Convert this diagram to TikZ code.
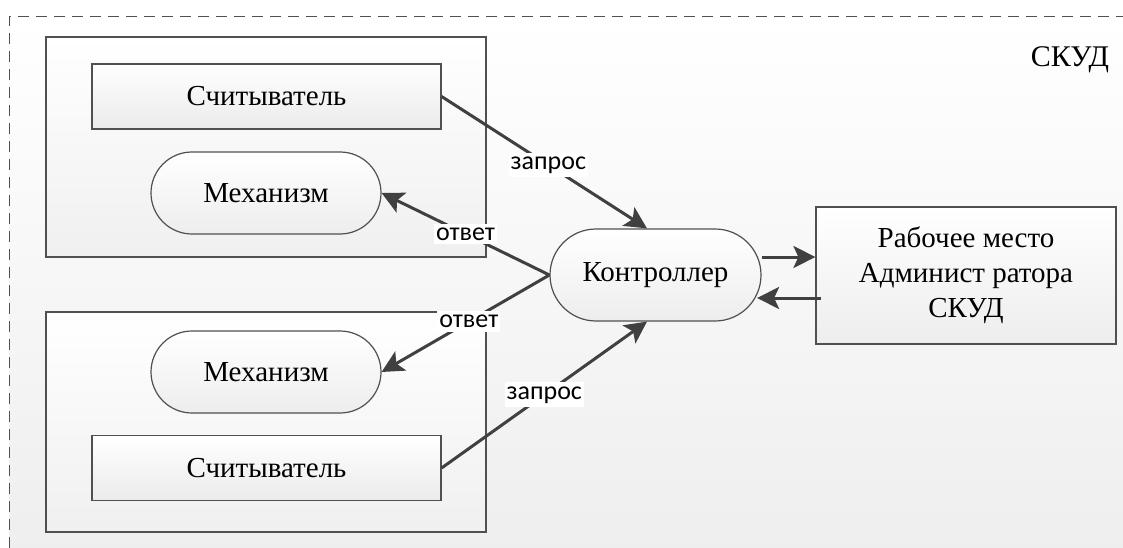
\documentclass[tikz,border=0pt]{standalone}
\usepackage{fontspec}
\setmainfont{Liberation Serif}
\newfontfamily\lblfont{Carlito}
\usetikzlibrary{arrows.meta}
\definecolor{edgec}{HTML}{404040}
\definecolor{bordc}{HTML}{505050}
\begin{document}
\begin{tikzpicture}[x=1pt,y=-1pt,
  base/.style={draw=bordc, line width=1.2pt, inner sep=0pt,
    font=\fontsize{29}{35}\selectfont, align=center},
  grp/.style={base, top color=white, bottom color=gray!12,
    minimum width=440pt, minimum height=220pt},
  rd/.style={base, top color=white, bottom color=gray!16,
    minimum width=349pt, minimum height=65pt},
  mech/.style={base, top color=white, bottom color=gray!14,
    rounded corners=41pt, minimum width=230pt, minimum height=82pt},
  ctrl/.style={base, top color=white, bottom color=gray!14,
    rounded corners=46pt, minimum width=211pt, minimum height=92pt},
  work/.style={base, top color=white, bottom color=gray!14,
    minimum width=300pt, minimum height=137pt},
  arr/.style={draw=edgec, line width=3pt,
    -{Stealth[length=22pt, width=22pt, inset=5pt]}},
  lbl/.style={fill=white, text=black, inner xsep=2pt, inner ysep=4pt,
    font=\lblfont\fontsize{26}{30}\selectfont},
  ttl/.style={font=\fontsize{30}{36}\selectfont, inner sep=0pt}
]
\useasboundingbox (0,0) rectangle (1123,548);
\fill[white] (0,0) rectangle (1123,548);
\shade[top color=white, bottom color=gray!13] (9.5,16.5) rectangle (1123,548);
\draw[bordc, line width=1.2pt, dash pattern=on 11pt off 7pt]
  (9.5,548) -- (9.5,16.5) -- (1123,16.5);

\node[grp] (g1) at (266,147) {};
\node[grp] (g2) at (266,422) {};
\node[rd] (r1) at (266.5,96.5) {Считыватель};
\node[mech] (m1) at (266,193) {Механизм};
\node[mech] (m2) at (266,372) {Механизм};
\node[rd] (r2) at (266.5,468) {Считыватель};
\node[ctrl] (c) at (655.5,275) {Контроллер};
\node[work] (w) at (966,275.5) {Рабочее место\\Админист ратора\\СКУД};
\node[ttl] (t) at (1070,60) {СКУД};

\draw[arr] (r1.east) -- node[lbl, pos=0.52]{запрос} ([xshift=-8.5pt]c.north);
\draw[arr] (c.west) -- node[lbl]{ответ} (m1.east);
\draw[arr] (c.west) -- node[lbl, pos=0.48]{ответ} (m2.east);
\draw[arr] (r2.east) -- node[lbl, pos=0.5]{запрос} ([xshift=-8.5pt]c.south);
\draw[arr] ([yshift=18pt]c.east) -- ([yshift=18.5pt]w.west);
\draw[arr] ([xshift=6pt,yshift=-22.5pt]w.west) -- ([xshift=-4.5pt,yshift=-23pt]c.east);
\end{tikzpicture}
\end{document}
